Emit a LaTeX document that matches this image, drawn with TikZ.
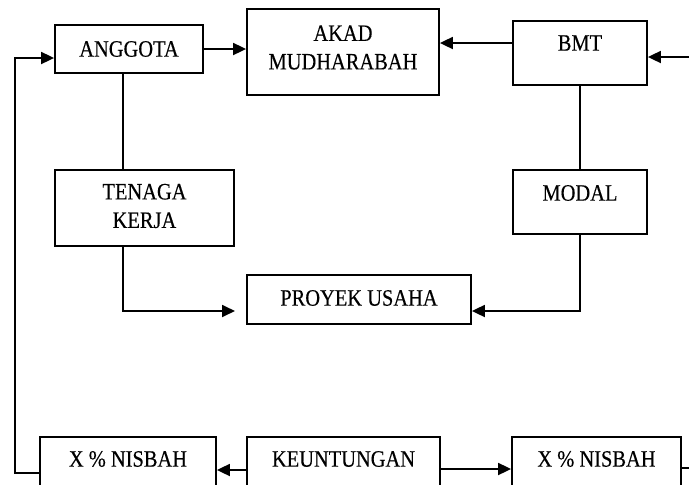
\documentclass[tikz,border=0pt]{standalone}
\usepackage{fontspec}
\setmainfont[FakeStretch=0.87,FakeBold=0.3]{Liberation Serif}
\usetikzlibrary{arrows.meta}
\begin{document}
\begin{tikzpicture}[x=1pt,y=-1pt,
  box/.style={draw=black, line width=1.8pt, rectangle, inner sep=0pt},
  lbl/.style={inner sep=0pt, align=center, font=\fontsize{23.5}{28.5}\selectfont},
  link/.style={draw=black, line width=1.8pt},
  arr/.style={link, -{Triangle[length=13pt,width=12pt]}}]
\useasboundingbox (0,0) rectangle (689,485);

% boxes (centre, width, height)
\node[box, minimum width=148, minimum height=48] (anggota) at (129,49) {};
\node[box, minimum width=192, minimum height=86] (akad) at (343,52) {};
\node[box, minimum width=134, minimum height=64] (bmt) at (580,53) {};
\node[box, minimum width=179, minimum height=76] (tenaga) at (144.5,208) {};
\node[box, minimum width=134, minimum height=64] (modal) at (580,202) {};
\node[box, minimum width=224, minimum height=49] (proyek) at (359,299.5) {};
\node[box, minimum width=176, minimum height=52] (nisL) at (128,463) {};
\node[box, minimum width=193, minimum height=52] (untung) at (343.5,463) {};
\node[box, minimum width=169, minimum height=52] (nisR) at (596.5,463) {};

% labels
\node[lbl] (anggotaT) at (129,49) {ANGGOTA};
\node[lbl] (akadT) at (343,47.5) {AKAD\\MUDHARABAH};
\node[lbl] (bmtT) at (580,43) {BMT};
\node[lbl] (tenagaT) at (144.5,206) {TENAGA\\KERJA};
\node[lbl] (modalT) at (580,193) {MODAL};
\node[lbl] (proyekT) at (359,298) {PROYEK USAHA};
\node[lbl] (nisLT) at (128,459) {X \% NISBAH};
\node[lbl] (untungT) at (343.5,459) {KEUNTUNGAN};
\node[lbl] (nisRT) at (596.5,459) {X \% NISBAH};

% routing points
\coordinate (inR) at (695,57);
\coordinate (loopB) at (15,473);
\coordinate (loopT) at (15,58);
\coordinate (tkTop) at (123,73);
\coordinate (tkBend) at (123,311);
\coordinate (tkTip) at (235,311);
\coordinate (mdBend) at (580,311);
\coordinate (outR) at (695,468);

% top row
\draw[arr] (anggota.east) -- (akad.west |- anggota.east);
\draw[arr] (bmt.west |- bmtT) -- (akad.east |- bmtT);
\draw[arr] (inR) -- (bmt.east |- inR);

% inputs to the business project
\draw[link] (tkTop) -- (tkTop |- tenaga.north);
\draw[arr] (tkTop |- tenaga.south) -- (tkBend) -- (tkTip);
\draw[link] (bmt.south) -- (modal.north);
\draw[arr] (modal.south) -- (mdBend) -- (proyek.east |- mdBend);

% profit sharing
\draw[arr] (untung.west |- 0,470) -- (nisL.east |- 0,470);
\draw[arr] (untung.east |- 0,469) -- (nisR.west |- 0,469);
\draw[link] (nisR.east |- outR) -- (outR);
\draw[arr] (nisL.west |- loopB) -- (loopB) -- (loopT) -- (anggota.west |- loopT);
\end{tikzpicture}
\end{document}
